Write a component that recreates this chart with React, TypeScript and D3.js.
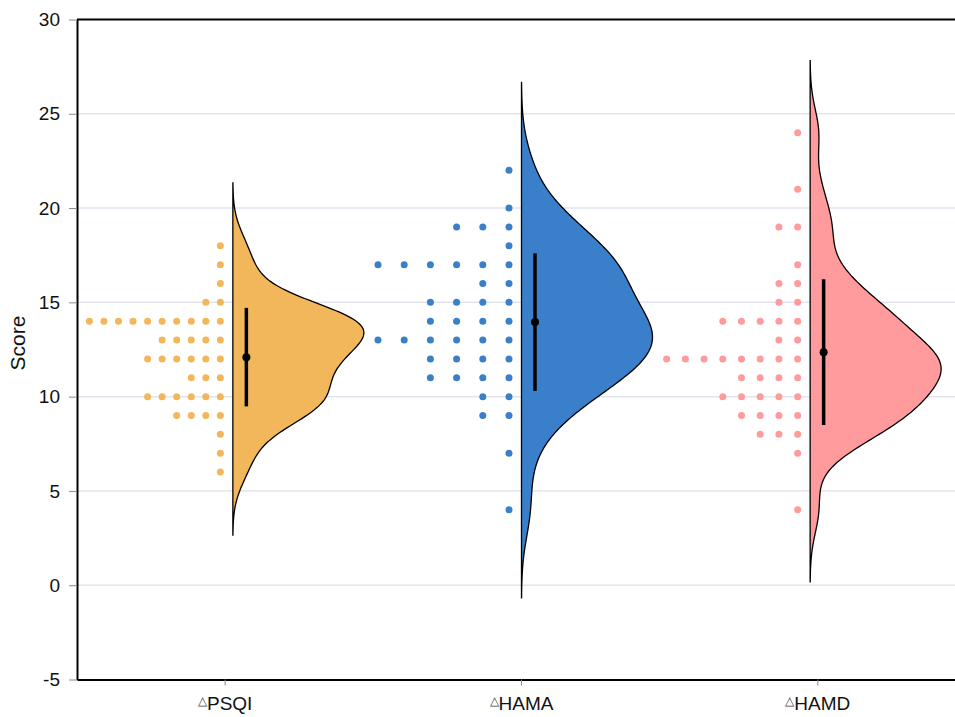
import React, { useEffect, useRef } from 'react';
import * as d3 from 'd3';

const categories = ['PSQI', 'HAMA', 'HAMD'];
const psqiScores = [
  18, 17, 16, 15, 15, 14, 14, 14, 14, 14, 14, 14, 14, 14, 14, 13, 13, 13, 13, 13, 12, 12, 12,
  12, 12, 12, 11, 11, 11, 10, 10, 10, 10, 10, 10, 9, 9, 9, 9, 8, 7, 6,
];
const hamaScores = [
  22, 20, 19, 19, 19, 18, 17, 17, 17, 17, 17, 17, 16, 16, 15, 15, 15, 15, 14, 14, 14, 14, 13,
  13, 13, 13, 13, 13, 12, 12, 12, 12, 11, 11, 11, 11, 10, 10, 9, 9, 7, 4,
];
const hamdScores = [
  24, 21, 19, 19, 17, 16, 16, 15, 15, 14, 14, 14, 14, 14, 13, 13, 12, 12, 12, 12, 12, 12, 12,
  12, 11, 11, 11, 11, 10, 10, 10, 10, 10, 9, 9, 9, 9, 8, 8, 8, 7, 4,
];
const seriesColors = ['#f2b75b', '#3a7fca', '#ff9b9d'];
const yTicks = [-5, 0, 5, 10, 15, 20, 25, 30];
const gridTicks = [0, 5, 10, 15, 20, 25];

const W = 955;
const H = 717;
const FONT = '"Liberation Sans", Arial, sans-serif';

export default function App() {
  const svgRef = useRef<SVGSVGElement>(null);

  useEffect(() => {
    const svg = d3.select(svgRef.current);
    svg.selectAll('*').remove();
    const series = [psqiScores, hamaScores, hamdScores];

    const y = d3.scaleLinear().domain([-5, 30]).range([679.5, 19.5]);
    const xBand = d3.scaleBand().domain(categories).range([77, 966]);
    const xPos = d3.scalePoint().domain(categories).range([77, 966]).padding(0.54);
    const halfWidth = 131;

    // grid
    svg
      .append('g')
      .selectAll('line')
      .data(gridTicks)
      .join('line')
      .attr('x1', 77)
      .attr('x2', W)
      .attr('y1', (d) => y(d))
      .attr('y2', (d) => y(d))
      .attr('stroke', '#e2e4f0')
      .attr('stroke-width', 1.5);

    series.forEach((vals, i) => {
      const cat = categories[i];
      const cx = xPos(cat) as number;
      const color = seriesColors[i];
      const sorted = vals.slice().sort(d3.ascending);
      const n = vals.length;
      const sd = d3.deviation(vals) as number;
      const iqr = (d3.quantile(sorted, 0.75) as number) - (d3.quantile(sorted, 0.25) as number);
      const bw = 0.9 * Math.min(sd, iqr / 1.34) * Math.pow(n, -0.2);
      const lo = (d3.min(vals) as number) - 3 * bw;
      const hi = (d3.max(vals) as number) + 3 * bw;
      const grid = d3.range(241).map((k) => lo + ((hi - lo) * k) / 240);
      const dens = grid.map((g) => [
        g,
        d3.mean(vals, (v) => Math.exp(-0.5 * ((g - v) / bw) ** 2)) as number,
      ]) as [number, number][];
      const w = d3
        .scaleLinear()
        .domain([0, d3.max(dens, (d) => d[1]) as number])
        .range([0, halfWidth]);

      const area = d3
        .area<[number, number]>()
        .y((d) => y(d[0]))
        .x0(cx)
        .x1((d) => cx + w(d[1]));

      svg
        .append('path')
        .attr('d', area(dens))
        .attr('fill', color)
        .attr('stroke', '#000')
        .attr('stroke-width', 1.3);

      // dots
      const counts = d3.rollups(vals, (v) => v.length, (v) => v);
      const maxCount = d3.max(counts, (c) => c[1]) as number;
      const spacing = halfWidth / (maxCount - 1);
      const dots: { x: number; v: number }[] = [];
      counts.forEach(([v, c]) => {
        for (let k = 0; k < c; k++) dots.push({ x: cx - 12.5 - k * spacing, v });
      });
      svg
        .append('g')
        .selectAll('circle')
        .data(dots)
        .join('circle')
        .attr('cx', (d) => d.x)
        .attr('cy', (d) => y(d.v))
        .attr('r', 3.5)
        .attr('fill', color);

      // mean +- sd
      const mean = d3.mean(vals) as number;
      svg
        .append('line')
        .attr('x1', cx + 13.5)
        .attr('x2', cx + 13.5)
        .attr('y1', y(mean - sd))
        .attr('y2', y(mean + sd))
        .attr('stroke', '#000')
        .attr('stroke-width', 3.5);
      svg
        .append('circle')
        .attr('cx', cx + 13.5)
        .attr('cy', y(mean))
        .attr('r', 4)
        .attr('fill', '#000');
    });

    // axes
    const yAxis = d3
      .axisLeft(y)
      .tickValues(yTicks)
      .tickFormat((d) => String(d))
      .tickSizeInner(8)
      .tickSizeOuter(0)
      .tickPadding(9);
    svg
      .append('g')
      .attr('transform', 'translate(77,0)')
      .call(yAxis)
      .call((g) => g.select('.domain').attr('stroke', '#000').attr('stroke-width', 2))
      .call((g) => g.selectAll('.tick line').attr('stroke', '#888'))
      .call((g) =>
        g.selectAll('.tick text').attr('font-size', 19).attr('font-family', FONT).attr('fill', '#111')
      );

    const xAxis = d3.axisBottom(xBand).tickSizeInner(6).tickSizeOuter(0).tickPadding(8);
    svg
      .append('g')
      .attr('transform', `translate(0,${y(-5)})`)
      .call(xAxis)
      .call((g) => g.select('.domain').attr('stroke', '#000').attr('stroke-width', 2))
      .call((g) => g.selectAll('.tick line').attr('stroke', '#888'))
      .call((g) => {
        const t = g
          .selectAll<SVGTextElement, string>('.tick text')
          .attr('font-family', FONT)
          .attr('fill', '#111')
          .attr('y', 30)
          .attr('dy', null)
          .text(null);
        t.append('tspan')
          .attr('font-size', 12)
          .attr('fill', '#444')
          .attr('dy', -5)
          .text('△');
        t.append('tspan')
          .attr('font-size', 19)
          .attr('dy', 5)
          .text((d) => d);
      });

    // top border
    svg
      .append('line')
      .attr('x1', 77)
      .attr('x2', W)
      .attr('y1', y(30))
      .attr('y2', y(30))
      .attr('stroke', '#000')
      .attr('stroke-width', 2);

    svg
      .append('text')
      .attr('transform', 'rotate(-90)')
      .attr('x', -343)
      .attr('y', 19)
      .attr('dominant-baseline', 'middle')
      .attr('text-anchor', 'middle')
      .attr('font-size', 21)
      .attr('font-family', FONT)
      .attr('fill', '#111')
      .text('Score');
  }, []);

  return (
    <svg
      ref={svgRef}
      width={W}
      height={H}
      style={{ position: 'absolute', left: 0, top: 0, background: '#fff' }}
    />
  );
}
